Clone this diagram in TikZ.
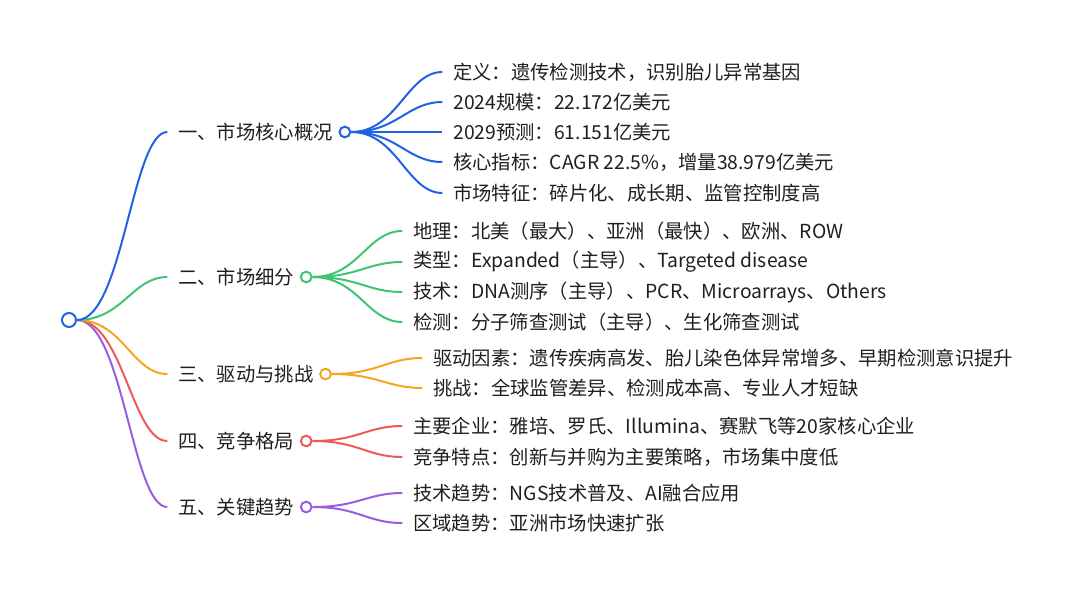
\documentclass[tikz,border=0pt]{standalone}
\usepackage{fontspec}
\setmainfont{Noto Sans CJK SC}
\definecolor{bblue}{HTML}{2162E3}
\definecolor{bgreen}{HTML}{3EC472}
\definecolor{borange}{HTML}{F5A522}
\definecolor{bred}{HTML}{EE5A5A}
\definecolor{bpurple}{HTML}{9A5CE0}
\definecolor{ink}{HTML}{1F1F1F}
\usetikzlibrary{positioning}
\tikzset{
  topic/.style={font=\fontsize{14.5}{17}\selectfont, text=ink, anchor=west, inner xsep=0pt, inner ysep=1pt},
  leaf/.style={topic},
  knot/.style={circle, draw, fill=white, line width=1.5pt, inner sep=0pt, minimum size=8pt},
  link/.style={line width=1.5pt, shorten >=8pt,
               to path={.. controls +(46,0) and +(-46,0) .. (\tikztotarget)}},
}
\begin{document}
\begin{tikzpicture}[x=0.75pt,y=-0.75pt]
\path[use as bounding box] (0,0) rectangle (1080,594);
\node[knot,draw=bblue,minimum size=10.5pt] (root) at (69,320) {};

% first level
\node[topic] (t1) at (178,132) {一、市场核心概况};
\node[topic] (t2) at (178,277) {二、市场细分};
\node[topic] (t3) at (178,374) {三、驱动与挑战};
\node[topic] (t4) at (178,441) {四、竞争格局};
\node[topic] (t5) at (178,507) {五、关键趋势};
\node[knot,draw=bblue,right=4pt of t1] (c1) {};
\node[knot,draw=bgreen,right=4pt of t2] (c2) {};
\node[knot,draw=borange,right=4pt of t3] (c3) {};
\node[knot,draw=bred,right=4pt of t4] (c4) {};
\node[knot,draw=bpurple,right=4pt of t5] (c5) {};

% leaves
\node[leaf] (l11) at (453,72) {定义：遗传检测技术，识别胎儿异常基因};
\node[leaf] (l12) at (453,102) {2024规模：22.172亿美元};
\node[leaf] (l13) at (453,132) {2029预测：61.151亿美元};
\node[leaf] (l14) at (453,162) {核心指标：CAGR 22.5\%，增量38.979亿美元};
\node[leaf] (l15) at (453,193) {市场特征：碎片化、成长期、监管控制度高};
\node[leaf] (l21) at (413,231) {地理：北美（最大）、亚洲（最快）、欧洲、ROW};
\node[leaf] (l22) at (413,262) {类型：Expanded（主导）、Targeted disease};
\node[leaf] (l23) at (413,292) {技术：DNA测序（主导）、PCR、Microarrays、Others};
\node[leaf] (l24) at (413,322) {检测：分子筛查测试（主导）、生化筛查测试};
\node[leaf] (l31) at (433,358) {驱动因素：遗传疾病高发、胎儿染色体异常增多、早期检测意识提升};
\node[leaf] (l32) at (433,388) {挑战：全球监管差异、检测成本高、专业人才短缺};
\node[leaf] (l41) at (413,426) {主要企业：雅培、罗氏、Illumina、赛默飞等20家核心企业};
\node[leaf] (l42) at (413,457) {竞争特点：创新与并购为主要策略，市场集中度低};
\node[leaf] (l51) at (413,493) {技术趋势：NGS技术普及、AI融合应用};
\node[leaf] (l52) at (413,523) {区域趋势：亚洲市场快速扩张};

\draw[link,bpurple] (root.east) to (t5.west);
\draw[link,bred] (root.east) to (t4.west);
\draw[link,borange] (root.east) to (t3.west);
\draw[link,bgreen] (root.east) to (t2.west);
\draw[link,bblue] (root.east) to (t1.west);
\foreach \n in {1,...,5} \draw[link,bblue] (c1.east) to (l1\n.west);
\foreach \n in {1,...,4} \draw[link,bgreen] (c2.east) to (l2\n.west);
\foreach \n in {1,2} \draw[link,borange] (c3.east) to (l3\n.west);
\foreach \n in {1,2} \draw[link,bred] (c4.east) to (l4\n.west);
\foreach \n in {1,2} \draw[link,bpurple] (c5.east) to (l5\n.west);
\end{tikzpicture}
\end{document}
